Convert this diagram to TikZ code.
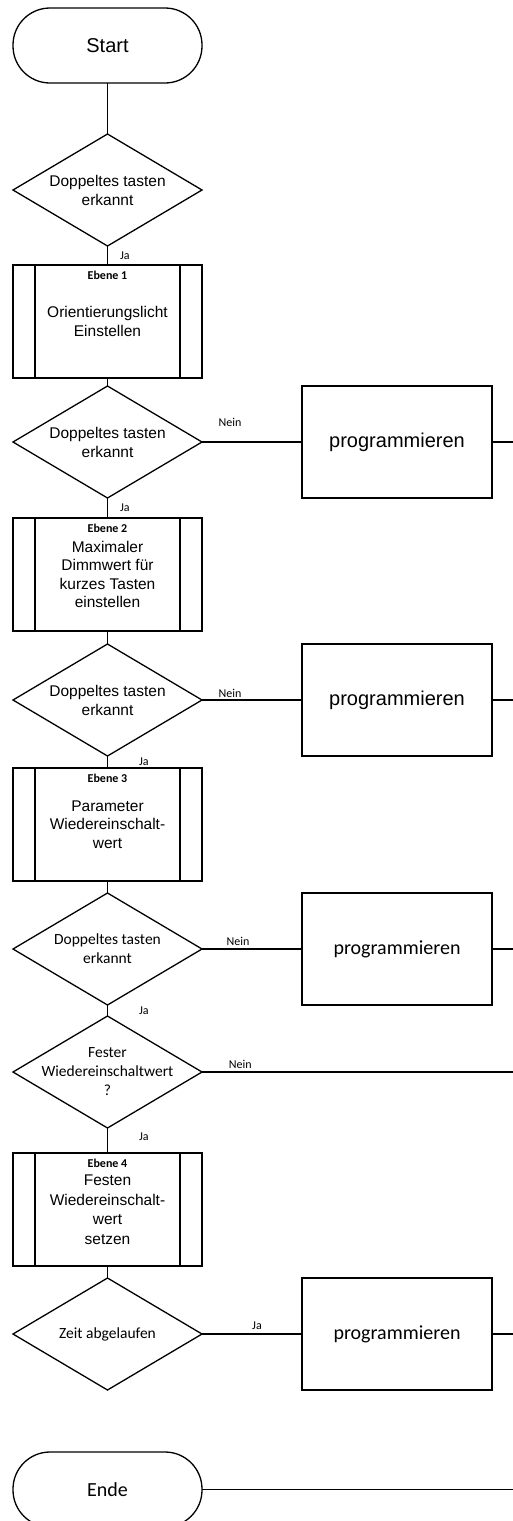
\documentclass[tikz,border=0pt]{standalone}
\usepackage{fontspec}
\setmainfont{Liberation Sans}
\newfontfamily\calibri{Carlito}
\usetikzlibrary{positioning,shapes.geometric}
\tikzset{
    %Define style for start and end
    terminal/.style={
           rectangle,
           rounded corners=37pt,
           draw=black, line width=1.3pt,
           outer sep=0pt,
           minimum width=189pt,
           minimum height=75pt,
           font=\fontsize{20}{24}\selectfont},
    %Define style for decisions
    decision/.style={
           diamond,
           draw=black, line width=1.3pt,
           outer sep=0pt,
           minimum width=189pt,
           minimum height=112pt,
           inner sep=0pt,
           label={[align=center,font=\fontsize{15.5}{19}\selectfont]center:#1}},
    %Define style for the levels
    subproc/.style={
           rectangle,
           draw=black, line width=1.3pt,
           outer sep=0pt,
           minimum width=189pt,
           minimum height=113pt,
           align=center,
           font=\fontsize{15.5}{18.5}\selectfont,
           path picture={
               \draw[line width=1.3pt]
                 ([xshift=22pt]path picture bounding box.north west) -- ([xshift=22pt]path picture bounding box.south west)
                 ([xshift=-22pt]path picture bounding box.north east) -- ([xshift=-22pt]path picture bounding box.south east);},
           label={[anchor=north,yshift=-3pt,font=\calibri\bfseries\fontsize{12}{14}\selectfont]north:#1}},
    %Define style for boxes
    process/.style={
           rectangle,
           draw=black, line width=1.3pt,
           outer sep=0pt,
           minimum width=190pt,
           minimum height=112pt,
           font=\fontsize{20}{24}\selectfont},
    % Define line style
    conn/.style={line width=1.3pt},
    answer/.style={font=\calibri\fontsize{12}{14}\selectfont, inner sep=1pt}
}

\begin{document}
\begin{tikzpicture}[x=1pt,y=1pt]
\useasboundingbox (0,0) rectangle (513,-1521);
\clip (0,0) rectangle (513,-1521);
\coordinate (bus) at (520,0);
\node [terminal] (start) at (107.5,-45.5) {Start};
\node [decision={Doppeltes tasten\\erkannt}, below=51pt of start] (d1) {};
\node [subproc={Ebene 1}, below=19pt of d1] (b1) {Orientierungslicht\\Einstellen};
\node [decision={Doppeltes tasten\\erkannt}, below=8pt of b1] (d2) {};
\node [subproc={Ebene 2}, below=20pt of d2] (b2) {Maximaler\\Dimmwert für\\kurzes Tasten\\einstellen};
\node [decision={Doppeltes tasten\\erkannt}, below=13pt of b2] (d3) {};
\node [subproc={Ebene 3}, below=12pt of d3] (b3) {Parameter\\Wiedereinschalt-\\wert};
\node [decision={\calibri Doppeltes tasten\\\calibri erkannt}, below=12pt of b3] (d4) {};
\node [decision={\calibri Fester\\\calibri Wiedereinschaltwert\\\calibri ?}, below=11pt of d4] (d5) {};
\node [subproc={Ebene 4}, below=25pt of d5, font=\fontsize{15.5}{19.5}\selectfont] (b4) {Festen\\Wiedereinschalt-\\wert\\setzen};
\node [decision={\calibri Zeit abgelaufen}, below=12pt of b4] (d6) {};
\node [terminal, below=62pt of d6] (ende) {\calibri Ende};
\node [process, right=100pt of d2] (p1) {programmieren};
\node [process, right=100pt of d3] (p2) {programmieren};
\node [process, right=100pt of d4] (p3) {\calibri programmieren};
\node [process, right=100pt of d6] (p4) {\calibri programmieren};
%main column
\draw[conn] (start) -- (d1);
\draw[conn] (d1) -- node[answer, right=11pt] {Ja} (b1);
\draw[conn] (b1) -- (d2);
\draw[conn] (d2) -- node[answer, right=11pt] {Ja} (b2);
\draw[conn] (b2) -- (d3);
\draw[conn] (d3) -- node[answer, right=30pt] {Ja} (b3);
\draw[conn] (b3) -- (d4);
\draw[conn] (d4) -- node[answer, right=30pt] {Ja} (d5);
\draw[conn] (d5) -- node[answer, right=30pt, pos=0.35] {Ja} (b4);
\draw[conn] (b4) -- (d6);
%branches
\draw[conn] (d2) -- node[answer, above=14pt, pos=0.28] {Nein} (p1);
\draw[conn] (d3) -- node[answer, above=1pt, pos=0.28] {Nein} (p2);
\draw[conn] (d4) -- node[answer, above=2pt, pos=0.36] {Nein} (p3);
\draw[conn] (d5) -- node[answer, above=2pt, pos=0.12] {Nein} (d5 -| bus);
\draw[conn] (d6) -- node[answer, above=3pt, pos=0.55] {Ja} (p4);
\draw[conn] (p1) -- (p1 -| bus);
\draw[conn] (p2) -- (p2 -| bus);
\draw[conn] (p3) -- (p3 -| bus);
\draw[conn] (p4) -- (p4 -| bus);
\draw[conn] (ende) -- (ende -| bus);
\end{tikzpicture}
\end{document}
